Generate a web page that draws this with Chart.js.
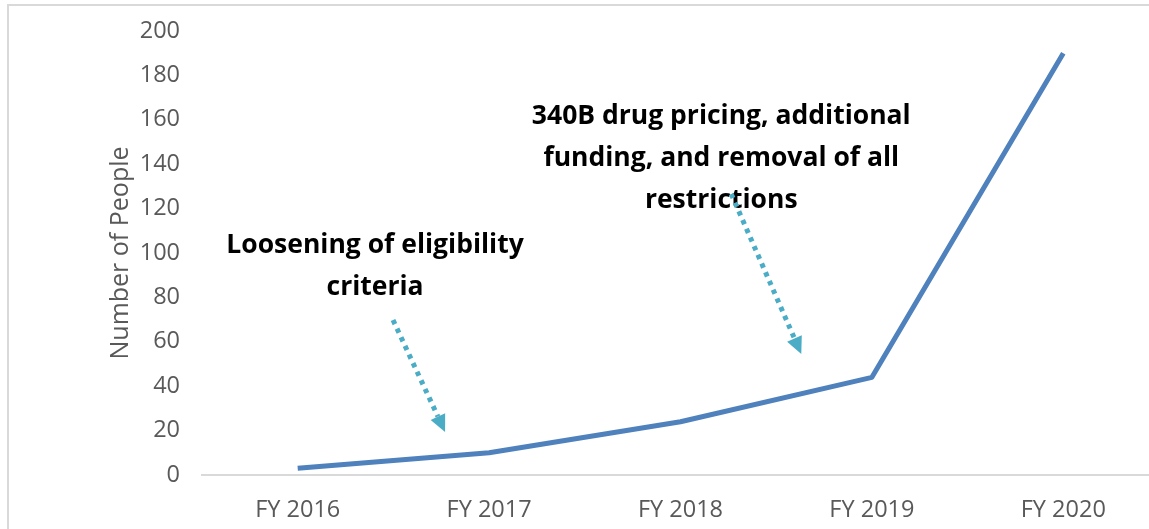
<!DOCTYPE html>
<html>
<head>
<meta charset="utf-8">
<script src="https://cdn.jsdelivr.net/npm/chart.js@4.4.1/dist/chart.umd.min.js"></script>
<style>
  html, body { margin: 0; padding: 0; background: #ffffff; overflow: hidden; width: 1149px; height: 529px; }
  #box { position: absolute; left: 7px; top: 4px; border-left: 2px solid #d9d9d9; border-top: 2px solid #d9d9d9; width: 1150px; height: 523px; }
  canvas { display: block; }
</style>
</head>
<body>
<div id="box"><canvas id="c" width="1150" height="523"></canvas></div>
<script>
const categories = ['FY 2016', 'FY 2017', 'FY 2018', 'FY 2019', 'FY 2020'];
const peopleServed = [3, 10, 24, 44, 190];
const yTicks = [0, 20, 40, 60, 80, 100, 120, 140, 160, 180, 200];
const yAxisTitle = 'Number of People';

// annotation text lines, anchored in data space (category index, value)
const noteLoosening = ['Loosening of eligibility', 'criteria'];
const noteLooseningAt = [[0.404, 100], [0.404, 81.1]];
const note340B = ['340B drug pricing, additional', 'funding, and removal of all', 'restrictions'];
const note340BAt = [[2.213, 158.1], [2.213, 139.2], [2.213, 120.3]];
// arrows: [fromIndex, fromValue, toIndex, toValue]
const arrows = [[0.498, 69.8, 0.770, 19.4], [2.265, 126.6, 2.631, 54.5]];

const annotate = {
  id: 'annotate',
  afterDatasetsDraw(chart) {
    const ctx = chart.ctx, x = chart.scales.x, y = chart.scales.y;
    ctx.save();
    ctx.fillStyle = '#000000';
    ctx.font = 'bold 26.5px "Open Sans"';
    ctx.textAlign = 'center';
    ctx.textBaseline = 'alphabetic';
    noteLoosening.forEach((t, i) => ctx.fillText(t, x.getPixelForValue(noteLooseningAt[i][0]), y.getPixelForValue(noteLooseningAt[i][1])));
    note340B.forEach((t, i) => ctx.fillText(t, x.getPixelForValue(note340BAt[i][0]), y.getPixelForValue(note340BAt[i][1])));
    arrows.forEach(a => {
      const x0 = x.getPixelForValue(a[0]), y0 = y.getPixelForValue(a[1]);
      const x1 = x.getPixelForValue(a[2]), y1 = y.getPixelForValue(a[3]);
      const ang = Math.atan2(y1 - y0, x1 - x0);
      const headLen = 17, headW = 8;
      const bx = x1 - headLen * Math.cos(ang), by = y1 - headLen * Math.sin(ang);
      ctx.strokeStyle = '#4bacc6';
      ctx.lineWidth = 5;
      ctx.setLineDash([4.5, 5]);
      ctx.lineCap = 'butt';
      ctx.beginPath();
      ctx.moveTo(x0, y0);
      ctx.lineTo(bx, by);
      ctx.stroke();
      ctx.setLineDash([]);
      ctx.fillStyle = '#4bacc6';
      ctx.beginPath();
      ctx.moveTo(x1, y1);
      ctx.lineTo(bx + headW * Math.sin(ang), by - headW * Math.cos(ang));
      ctx.lineTo(bx - headW * Math.sin(ang), by + headW * Math.cos(ang));
      ctx.closePath();
      ctx.fill();
      ctx.fillStyle = '#000000';
    });
    ctx.restore();
  }
};

new Chart(document.getElementById('c'), {
  type: 'line',
  data: {
    labels: categories,
    datasets: [{
      data: peopleServed,
      borderColor: '#4f81bd',
      borderWidth: 5,
      pointRadius: 0,
      pointHoverRadius: 0,
      tension: 0,
      fill: false,
      borderCapStyle: 'butt',
      borderJoinStyle: 'round'
    }]
  },
  options: {
    responsive: false,
    animation: false,
    events: [],
    layout: { padding: { left: 93, top: 25, right: 0, bottom: 0 } },
    plugins: { legend: { display: false }, tooltip: { enabled: false }, title: { display: false } },
    scales: {
      x: {
        offset: true,
        grid: { display: false, drawTicks: false },
        border: { display: true, color: '#d9d9d9', width: 2 },
        ticks: { color: '#595959', font: { family: 'Open Sans', size: 23.5 }, padding: 21, maxRotation: 0 },
        afterFit(s) { s.height = 54; s.paddingLeft = 0; s.paddingRight = 0; }
      },
      y: {
        min: 0, max: 200,
        afterBuildTicks(s) { s.ticks = yTicks.map(v => ({ value: v })); },
        grid: { display: false, drawTicks: false },
        border: { display: false },
        ticks: { color: '#595959', font: { family: 'Open Sans', size: 23.5 }, padding: 22 },
        title: { display: true, text: yAxisTitle, color: '#595959', font: { family: 'Open Sans', size: 25 }, padding: { top: 4, bottom: 0 } },
        afterFit(s) { s.width = 100; s.paddingTop = 0; s.paddingBottom = 0; }
      }
    }
  },
  plugins: [annotate]
});
</script>
</body>
</html>
